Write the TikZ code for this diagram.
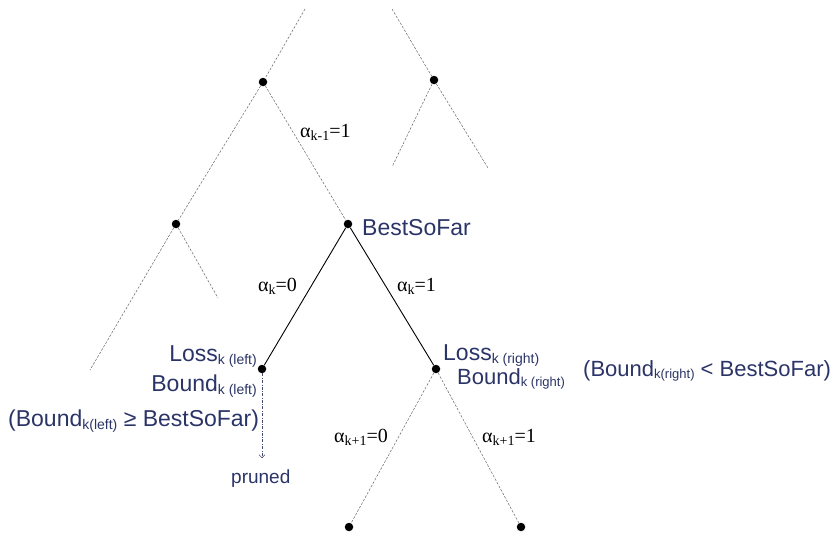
\documentclass[tikz,border=0pt]{standalone}
\usepackage{fontspec}
\setmainfont{Liberation Sans}
\newfontfamily\serifa{Liberation Serif}
\usetikzlibrary{arrows.meta}
\definecolor{navy}{RGB}{43,52,103}
\newcommand\bsub[1]{\raisebox{-0.25ex}{\fontsize{14}{14}\selectfont #1}}
\newcommand\csub[1]{\raisebox{-0.25ex}{\fontsize{13}{13}\selectfont #1}}
\newcommand\asub[1]{\raisebox{-0.35ex}{\fontsize{14}{14}\selectfont #1}}
\begin{document}
\begin{tikzpicture}[x=1pt,y=-1pt,
 dot/.style={circle,fill=black,inner sep=0pt,minimum size=8.5pt},
 dline/.style={gray!80!black,line width=0.5pt,dash pattern=on 2.5pt off 1.5pt},
 sline/.style={black,line width=0.9pt},
 pline/.style={navy!70!gray,line width=0.5pt,dash pattern=on 3pt off 1.5pt on 0.6pt off 1.5pt,-{Straight Barb[length=3pt,width=6pt]}},
 btext/.style={text=navy,inner sep=0pt,font=\fontsize{23}{26}\selectfont},
 ctext/.style={text=navy,inner sep=0pt,font=\fontsize{22}{25}\selectfont},
 ptext/.style={text=navy,inner sep=0pt,font=\fontsize{19}{21}\selectfont},
 atext/.style={inner sep=0pt,font=\serifa\fontsize{20}{22}\selectfont},
]
\useasboundingbox (0,0) rectangle (840,533);
% nodes
\node[dot] (A) at (263,82) {};
\node[dot] (B) at (434,80) {};
\node[dot] (C) at (176,224) {};
\node[dot] (D) at (348,224) {};
\node[dot] (E) at (262,369) {};
\node[dot] (F) at (436,369) {};
\node[dot] (G) at (349,527) {};
\node[dot] (H) at (521,527) {};
% free ends
\coordinate (Atop) at (305,9);
\coordinate (Btop) at (392,9);
\coordinate (Bl) at (392,167);
\coordinate (Br) at (488,168);
\coordinate (Cl) at (90,370);
\coordinate (Cr) at (218,298);
\coordinate (P) at (262,458);
% edges
\draw[dline] (Atop) -- (A);
\draw[dline] (A) -- (C);
\draw[dline] (A) -- (D);
\draw[dline] (Btop) -- (B);
\draw[dline] (B) -- (Bl);
\draw[dline] (B) -- (Br);
\draw[dline] (C) -- (Cl);
\draw[dline] (C) -- (Cr);
\draw[sline] (D) -- (E);
\draw[sline] (D) -- (F);
\draw[dline] (F) -- (G);
\draw[dline] (F) -- (H);
\draw[pline] (E) -- (P);
% labels
\node[btext,anchor=base west] (lbsf) at (362,235) {BestSoFar};
\node[atext,anchor=base west] (la1) at (300,137) {α\asub{k-1}=1};
\node[atext,anchor=base west] (la2) at (258,291) {α\asub{k}=0};
\node[atext,anchor=base west] (la3) at (397,291) {α\asub{k}=1};
\node[atext,anchor=base west] (la4) at (334,442) {α\asub{k+1}=0};
\node[atext,anchor=base west] (la5) at (482,442) {α\asub{k+1}=1};
\node[btext,anchor=base east] (lll) at (257,361) {Loss\bsub{k (left)}};
\node[btext,anchor=base east] (lbl) at (257,391) {Bound\bsub{k (left)}};
\node[btext,anchor=base west] (lcl) at (8,426) {(Bound\bsub{k(left)} ≥ BestSoFar)};
\node[ptext,anchor=base west] (lpr) at (231,483) {pruned};
\node[btext,anchor=base west] (llr) at (443,360) {Loss\bsub{k (right)}};
\node[ctext,anchor=base west] (lbr) at (457,384) {Bound\csub{k (right)}};
\node[ctext,anchor=base west] (lcr) at (583,376) {(Bound\csub{k(right)} < BestSoFar)};
\end{tikzpicture}
\end{document}
